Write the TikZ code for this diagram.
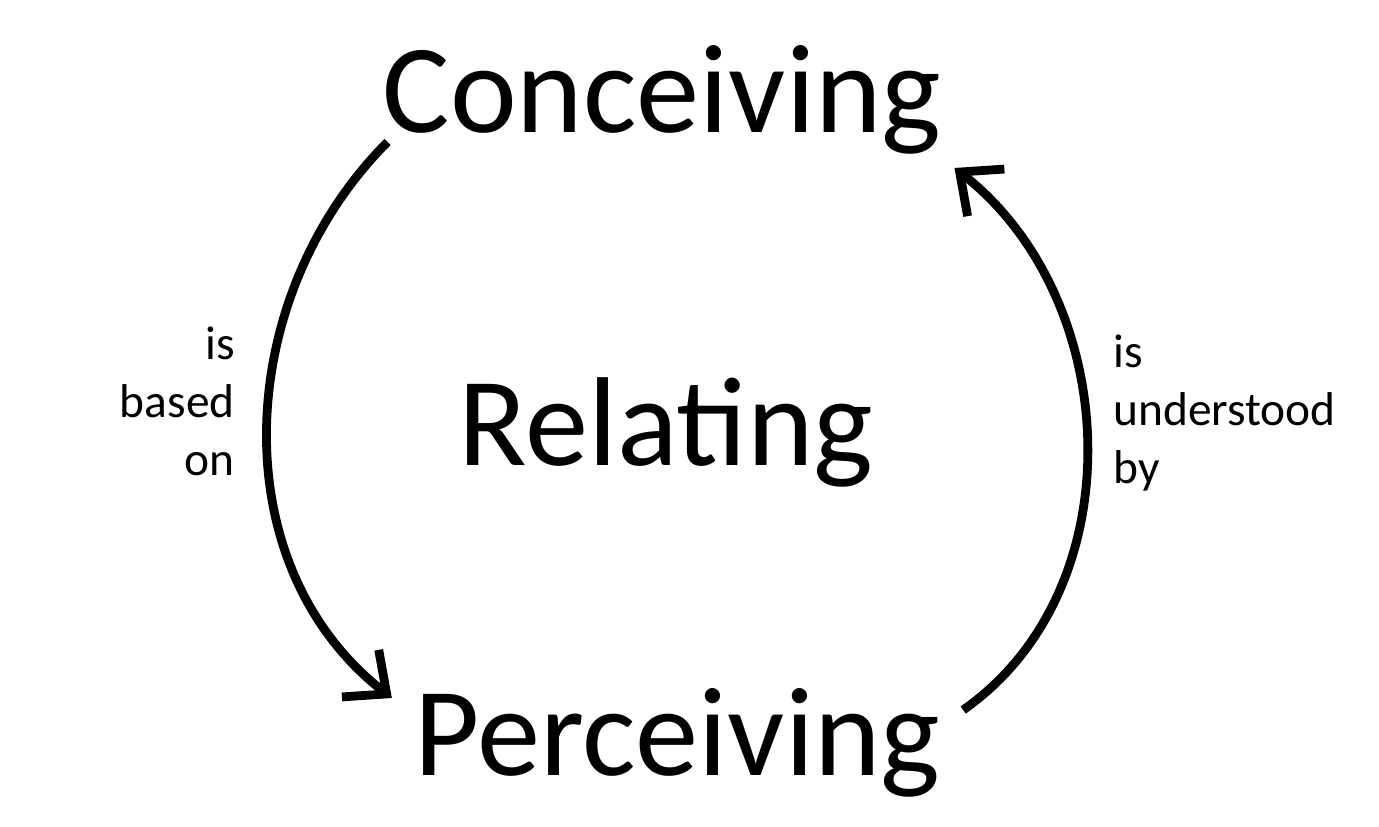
\documentclass[tikz,border=0pt]{standalone}
\usepackage{fontspec}
\setmainfont{Carlito}
\usetikzlibrary{arrows.meta,positioning}

\tikzset{
  stage/.style={inner sep=0pt, anchor=base, font=\fontsize{72}{86}\selectfont},
  verb/.style={inner sep=0pt, font=\fontsize{27}{33}\selectfont},
  cycle arrow/.style={line width=5pt,
    -{Straight Barb[length=19pt,width=34pt,sharp]}}
}

\begin{document}
\begin{tikzpicture}[x=0.02cm, y=-0.02cm]
  \useasboundingbox (0,0) rectangle (1379,827);
  % the three stages
  \node[stage] (conceiving) at (662,133) {Conceiving};
  \node[stage] (relating) at (666,465) {Relating};
  \node[stage] (perceiving) at (677,775) {Perceiving};
  % verbs beside the arrows
  \node[verb, align=right, anchor=base east] (based) at (235,475) {is\\based\\on};
  \node[verb, align=left, anchor=base west] (understood) at (1113,483) {is\\understood\\by};
  % arrows
  \draw[cycle arrow] ([shift={(5,9)}]conceiving.base west)
    to[out=225, in=142] ([shift={(-22,-77)}]perceiving.base west);
  \draw[cycle arrow] ([shift={(23,-65)}]perceiving.base east)
    to[out=35, in=-38] ([shift={(13,35)}]conceiving.base east);
\end{tikzpicture}
\end{document}
